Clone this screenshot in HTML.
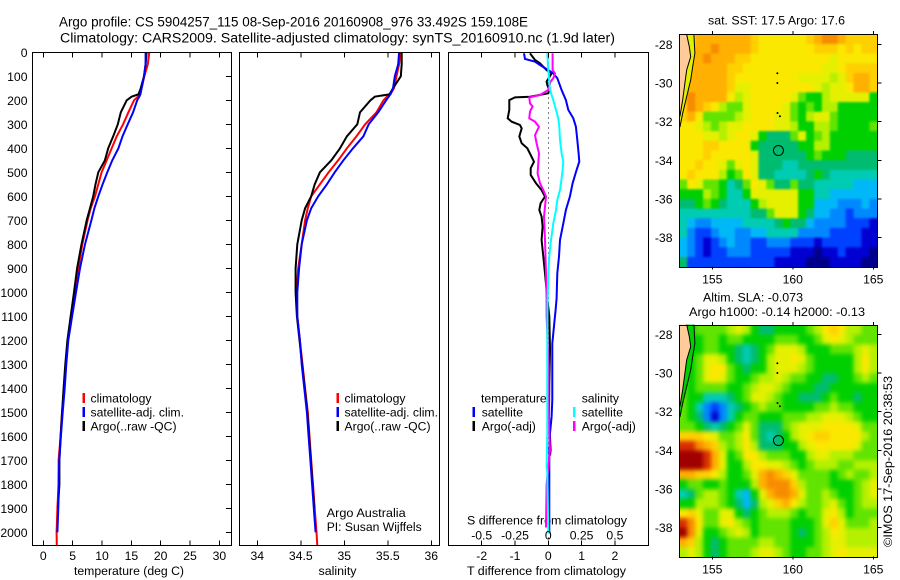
<!DOCTYPE html>
<html>
<head>
<meta charset="utf-8">
<style>
html,body{margin:0;padding:0;background:#fff;}
svg{display:block;}
text{font-family:"Liberation Sans","DejaVu Sans",sans-serif;font-size:12.2px;fill:#000;}
</style>
</head>
<body>
<svg id="fig" xmlns="http://www.w3.org/2000/svg" width="900" height="580" viewBox="0 0 900 580">
<text x="59" y="26.5" style="font-size:13.5px" textLength="469" lengthAdjust="spacingAndGlyphs">Argo profile: CS 5904257_115 08-Sep-2016 20160908_976 33.492S 159.108E</text>
<text x="60" y="42.5" style="font-size:13.5px" textLength="555" lengthAdjust="spacingAndGlyphs">Climatology: CARS2009. Satellite-adjusted climatology: synTS_20160910.nc (1.9d later)</text>
<text x="708" y="24.5" textLength="137" lengthAdjust="spacingAndGlyphs">sat. SST: 17.5 Argo: 17.6</text>
<text x="703" y="301.5" textLength="100" lengthAdjust="spacingAndGlyphs">Altim. SLA: -0.073</text>
<text x="689" y="316" textLength="176" lengthAdjust="spacingAndGlyphs">Argo h1000: -0.14 h2000: -0.13</text>
<text transform="translate(892,547) rotate(-90)" textLength="171" lengthAdjust="spacingAndGlyphs">©IMOS 17-Sep-2016 20:38:53</text>
<text x="74" y="575" textLength="110" lengthAdjust="spacingAndGlyphs">temperature (deg C)</text>
<text x="318.5" y="575" textLength="38" lengthAdjust="spacingAndGlyphs">salinity</text>
<text x="467" y="575" textLength="159" lengthAdjust="spacingAndGlyphs">T difference from climatology</text>
<text x="467" y="524.5" textLength="160" lengthAdjust="spacingAndGlyphs">S difference from climatology</text>
<text x="326.7" y="517" textLength="79" lengthAdjust="spacingAndGlyphs">Argo Australia</text>
<text x="326.7" y="531" textLength="95" lengthAdjust="spacingAndGlyphs">PI: Susan Wijffels</text>
<defs>
<filter id="blurSst" color-interpolation-filters="sRGB" x="-10%" y="-10%" width="120%" height="120%"><feGaussianBlur stdDeviation="1"/></filter>
<filter id="blurSla" color-interpolation-filters="sRGB" x="-10%" y="-10%" width="120%" height="120%"><feGaussianBlur stdDeviation="2.2"/></filter>
<clipPath id="clipSst"><rect x="680" y="34.5" width="197.5" height="232.5"/></clipPath>
<clipPath id="clipSla"><rect x="680" y="325" width="197.5" height="232"/></clipPath>
</defs>
</svg>
<script>
// ---------- profile data ----------
const profileDepths = [0,50,100,150,175,185,200,250,300,350,400,450,500,550,600,650,700,800,900,1000,1100,1200,1300,1400,1500,1600,1700,1800,1900,2000,2056];
const tempClim = [18.06,17.8,17.2,16.75,16.4,16.1,15.45,14.5,13.6,12.5,11.65,10.8,9.94,9.37,8.8,8.07,7.55,6.65,5.96,5.4,4.66,4.15,3.8,3.52,3.18,2.95,2.6,2.6,2.4,2.27,2.3];
const tempSat = [17.43,17.43,17.15,16.75,16.55,16.35,16.0,15.3,14.37,13.5,12.8,11.75,10.9,10.1,9.37,8.7,8.2,7.1,6.25,5.57,4.9,4.26,3.92,3.64,3.3,3.0,2.73,2.6,2.56,2.4,null];
const tempArgo = [17.6,17.43,17.15,16.6,16.2,15.05,14.2,13.2,12.7,11.9,11.05,10.5,9.37,8.9,8.5,7.95,7.4,6.5,5.75,5.23,4.66,4.1,3.75,3.45,3.2,2.95,2.75,2.75,2.5,null,null];
const salClim = [35.65,35.63,35.6,35.57,35.53,35.49,35.45,35.37,35.24,35.14,35.03,34.93,34.82,34.72,34.62,34.58,34.55,34.51,34.47,34.45,34.46,34.49,34.52,34.55,34.58,34.6,34.62,34.64,34.66,34.68,34.69];
const salSat = [35.63,35.62,35.58,35.56,35.53,35.51,35.48,35.39,35.28,35.22,35.1,34.99,34.89,34.8,34.7,34.62,34.57,34.51,34.48,34.46,34.46,34.49,34.51,34.54,34.57,34.59,34.61,34.63,34.65,34.67,null];
const salArgo = [35.66,35.66,35.65,35.56,35.52,35.35,35.3,35.18,35.15,35.03,34.95,34.85,34.72,34.66,34.62,34.55,34.51,34.46,34.44,34.44,34.455,34.485,34.515,34.545,34.575,34.595,34.615,34.635,34.655,null,null];

const tDiffSatDepths = [4,28,39,53,74,88,108,157,199,240,275,310,365,421,456,490,546,601,657,713,782,851,921,1025,1074,1115,1171,1213,1310,1449,1518,1588,1657,2005];
const tDiffSat = [-0.73,-0.70,-0.40,-0.25,0,0.15,0.27,0.40,0.53,0.60,0.75,0.83,0.87,0.91,0.93,0.85,0.73,0.65,0.53,0.45,0.35,0.32,0.27,0.25,0.22,0.19,0.15,0.12,0.12,0.12,0.10,0.05,0.03,0.03];
const tDiffArgoDepths = [4,32,46,60,74,88,122,136,157,171,185,188,199,240,275,289,303,317,351,379,400,428,456,483,511,546,574,601,629,657,685,726,782,851,921,1025,1100,1240,1380,1518,1657,1680];
const tDiffArgo = [-0.55,-0.40,-0.25,-0.15,-0.05,0.10,-0.05,-0.03,0.03,0,-0.55,-1.0,-1.17,-1.17,-1.22,-1.10,-0.85,-0.80,-0.87,-0.80,-0.63,-0.53,-0.43,-0.53,-0.53,-0.37,-0.20,-0.10,-0.23,-0.27,-0.20,-0.17,-0.20,-0.15,-0.10,-0.03,0.03,0.05,0.03,0.02,0.07,0.05];
const sDiffArgoDepths = [4,74,88,108,122,157,178,188,213,226,247,275,289,310,345,379,421,504,546,574,601,685,782,921,1025,1100,1171,1310,1449,1588,1657,1800,1980];
const sDiffArgo = [0.0325,0.0325,0.05,0.0375,0.0175,0,-0.0625,-0.1425,-0.1375,-0.1175,-0.1375,-0.1425,-0.1,-0.07,-0.1,-0.0875,-0.07,-0.08,-0.0625,-0.0375,-0.0175,-0.0325,-0.025,-0.0175,-0.0125,-0.0125,-0.0075,0.0025,0.0025,0.0075,0.0125,-0.0125,-0.0175];
const sDiffSatDepths = [4,74,157,199,240,275,310,365,421,456,504,574,615,657,713,782,851,921,1025,1171,1449,1588,1727,1750,2005];
const sDiffSat = [-0.0075,0,0.0125,0.0375,0.0575,0.075,0.0825,0.0875,0.1,0.1125,0.105,0.0875,0.0675,0.0575,0.0375,0.02,0.0075,0,-0.005,-0.0075,-0.0075,-0.0075,-0.0125,-0.0075,0];

// ---------- tick labels ----------
const depthTicks = [0,100,200,300,400,500,600,700,800,900,1000,1100,1200,1300,1400,1500,1600,1700,1800,1900,2000];
const tempTicks = [0,5,10,15,20,25,30];
const salTicks = [34,34.5,35,35.5,36];
const tDiffTicks = [-2,-1,0,1,2];
const sDiffTicks = [-0.5,-0.25,0,0.25,0.5];
const sDiffTickLabels = ['-0.5','-0.25','0','0.25','0.5'];
const lonTicks = [155,160,165];
const latTicks = [-28,-30,-32,-34,-36,-38];

// ---------- map data (colour level per cell, rows north to south) ----------
const sstLevels = [
[13,11,13,13,13,13,13,13,13,12,11,11,11,11,11,11,12,13,14,14,13,12,12,12,12],
[13,12,13,13,14,13,13,13,13,12,11,11,11,11,11,11,11,12,12,12,11,12,11,12,12],
[13,13,13,14,13,13,13,12,12,11,11,11,11,11,11,11,11,11,11,10,11,11,11,11,11],
[13,13,13,13,13,13,12,12,11,11,11,11,11,11,11,11,11,11,10,10,11,12,12,12,12],
[13,13,13,13,13,13,12,11,11,11,11,11,11,11,11,10,10,10,10,9,10,12,13,13,12],
[13,13,13,13,13,13,12,10,10,11,11,11,11,11,11,11,11,10,9,10,10,11,13,13,12],
[13,14,13,13,13,13,11,9,10,11,11,11,11,11,10,8,7,7,9,10,10,10,10,10,7],
[12,14,13,12,11,9,8,8,10,11,11,11,11,10,8,7,8,7,9,9,7,7,7,7,7],
[12,13,11,8,8,8,8,9,10,11,11,11,10,10,8,7,9,10,10,8,7,7,7,7,7],
[11,11,10,9,8,9,10,10,11,11,11,11,10,10,9,7,7,9,9,8,7,7,7,7,8],
[11,11,11,10,10,9,10,11,11,10,7,6,6,6,8,10,7,8,9,7,7,7,7,7,7],
[11,11,11,12,12,11,11,11,11,7,6,6,6,6,6,7,7,9,9,7,7,7,7,7,7],
[11,11,11,12,11,11,11,11,11,10,6,6,6,6,6,6,7,8,7,7,7,6,6,6,6],
[11,11,12,11,11,10,8,10,11,10,6,6,6,5,5,6,6,6,6,6,6,6,6,6,6],
[11,12,11,11,11,9,7,8,11,10,6,6,5,5,5,5,6,7,6,5,5,5,5,5,5],
[8,11,10,8,8,7,5,6,8,11,10,8,6,6,8,6,6,5,5,5,5,5,4,4,4],
[7,7,7,9,8,7,5,5,7,10,10,10,10,10,10,7,7,5,5,4,4,4,4,4,4],
[6,6,7,8,7,6,5,5,5,7,9,10,10,10,10,7,7,4,4,4,3,3,3,4,3],
[5,5,5,5,5,5,5,5,5,6,6,8,10,10,10,7,6,4,4,3,3,2,3,3,3],
[5,4,3,3,4,4,4,4,5,5,5,5,6,7,6,6,4,3,3,3,3,2,2,2,1],
[5,3,2,2,3,4,4,3,3,4,4,5,5,5,5,3,3,3,3,2,2,2,2,1,1],
[4,3,2,1,2,3,4,3,3,2,2,3,3,3,2,2,2,1,2,2,2,2,2,1,1],
[4,3,2,1,2,2,3,3,3,2,2,2,2,2,1,1,1,0,1,1,2,1,1,1,0],
[6,2,2,2,2,2,2,2,2,2,2,2,1,1,1,1,0,0,0,1,1,1,1,0,0]
];
const slaLevels = [
[8,7,8,8,8,8,9,10,9,7,6,6,7,7,7,7,8,9,11,12,11,9,9,8,8],
[8,7,7,8,8,7,8,8,7,7,7,7,8,8,8,7,7,8,10,11,10,9,8,8,8],
[8,7,7,8,8,7,7,6,5,6,7,8,10,10,10,9,7,7,7,8,8,8,9,10,9],
[8,7,8,10,10,9,7,6,5,6,7,9,10,10,11,10,8,7,7,7,7,7,9,11,9],
[9,7,8,10,11,11,8,7,6,7,7,9,10,10,10,9,8,7,7,7,7,7,9,11,9],
[8,7,8,10,11,10,8,7,7,8,9,9,10,9,8,8,7,7,6,6,7,7,8,9,8],
[8,7,8,8,8,8,7,7,8,9,10,10,9,8,7,7,7,6,6,7,7,7,7,7,7],
[8,7,7,5,5,5,6,7,8,10,10,9,8,7,7,6,6,6,7,8,7,7,6,7,7],
[8,7,5,3,2,3,5,6,7,8,9,8,8,7,7,7,7,8,8,9,8,8,7,7,7],
[8,7,6,3,1,3,5,7,8,8,7,7,7,8,8,8,9,9,10,10,10,9,8,7,7],
[8,8,7,6,5,6,7,8,10,8,6,6,6,8,9,10,10,10,11,11,11,11,10,8,8],
[12,12,12,11,10,8,8,9,11,8,6,5,6,7,9,10,11,12,12,11,11,11,11,9,8],
[15,15,14,13,12,9,8,9,11,9,6,6,6,7,7,9,10,11,11,11,11,11,10,8,8],
[16,16,16,15,13,10,7,8,11,11,9,8,8,8,7,7,9,10,10,9,9,9,8,8,8],
[16,16,16,15,13,10,7,7,9,11,11,10,10,9,8,7,8,9,9,9,8,8,9,9,9],
[13,13,12,12,11,9,7,7,8,10,13,14,13,12,10,8,8,8,8,7,8,9,8,8,9],
[7,8,8,7,7,8,7,7,7,9,13,14,14,14,12,9,8,8,8,7,7,7,8,9,10],
[5,6,8,9,9,8,7,5,4,7,10,13,14,14,13,10,8,8,9,8,7,7,8,9,10],
[7,7,9,9,9,8,7,6,4,6,9,10,12,13,11,9,8,8,9,10,8,7,8,9,9],
[11,12,10,8,8,10,10,7,6,7,8,9,9,9,8,7,8,8,10,11,9,7,8,8,8],
[15,14,11,8,8,10,11,9,8,7,8,8,8,8,7,7,7,8,10,12,10,8,8,8,9],
[16,14,10,7,7,8,9,10,9,7,8,8,8,8,7,6,7,8,9,11,10,9,9,9,9],
[13,12,9,7,6,7,8,8,8,8,9,9,8,8,7,7,7,8,9,10,10,9,9,9,9],
[9,10,9,7,6,7,8,8,8,9,10,10,9,8,7,7,8,8,9,10,11,10,10,10,10]
];
const levelColors = ['#00008c','#0000d2','#0040ff','#0088ff','#00b8f8','#00ccb4','#00bc70','#00d000','#60e400','#b4f000','#e4f000','#fbe800','#ffd000','#ffb000','#f88c00','#d83000','#a00000'];

// coastline and contour (lon/lat)
const coastLon = [153.41,153.57,153.66,153.41,153.3,153.16,152.99];
const coastLat = [-27.5,-28.12,-28.64,-29.32,-30.01,-30.87,-31.73];
const shelfLon = [153.86,153.92,153.78,153.66,153.41,153.16,152.99];
const shelfLat = [-27.5,-28.46,-29.15,-29.84,-30.7,-31.56,-32.28];
const islandLon = [159.04,159.04,159.05,159.2];
const islandLat = [-29.5,-30.0,-31.55,-31.72];
const floatLon = 159.108;
const floatLat = -33.492;

// ---------- layout ----------
const svg = document.getElementById('fig');
const NS = 'http://www.w3.org/2000/svg';
const depthTop = 52.3, depthPerPx = 0.24;
const panelBottom = 545.7;
const yDepth = d => depthTop + depthPerPx * d;
const xTemp = t => 43.3 + 5.87 * t;
const xSal = s => 257.3 + 87 * (s - 34);
const xTDiff = t => 548.3 + 33.3 * t;
const xSDiff = s => 548.3 + 133.2 * s;
const mapW = {lon0:152.95, lon1:165.25};
const xLon = lon => 712.3 + 16.1 * (lon - 155);
const yLatTop = lat => 44.3 + 19.34 * (-28 - lat);
const yLatBot = lat => 334.3 + 19.34 * (-28 - lat);

function add(tag, attrs, name, parent){
  const el = document.createElementNS(NS, tag);
  for (const k in attrs) el.setAttribute(k, attrs[k]);
  
  
  (parent || svg).appendChild(el);
  return el;
}
function label(str, x, y, anchor, name){
  const t = add('text', {x:x, y:y, 'text-anchor':anchor}, name);
  t.textContent = str;
  return t;
}
function tick(x1,y1,x2,y2,name){
  add('line',{x1:x1,y1:y1,x2:x2,y2:y2,stroke:'#000','stroke-width':1,'shape-rendering':'crispEdges'},name);
}
function frame(x0,y0,x1,y1,name){
  add('rect',{x:x0,y:y0,width:x1-x0,height:y1-y0,fill:'none',stroke:'#000','stroke-width':1,'shape-rendering':'crispEdges'},name);
}
function profile(depths, vals, xf, color, name){
  const pts = [];
  depths.forEach((d,i)=>{ if(vals[i]!==null) pts.push(xf(vals[i]).toFixed(1)+','+yDepth(d).toFixed(1)); });
  add('polyline',{points:pts.join(' '),fill:'none',stroke:color,'stroke-width':2,'stroke-linejoin':'miter'},name);
}
function legendKey(x,y,color,name){
  add('rect',{x:x,y:y-5,width:2.4,height:10,fill:color,'shape-rendering':'crispEdges'},name);
}

// ---------- panel 1: temperature ----------
profile(profileDepths,tempClim,xTemp,'#ff0000','temp-climatology-line');
profile(profileDepths,tempArgo,xTemp,'#000000','temp-argo-line');
profile(profileDepths,tempSat,xTemp,'#0000ff','temp-satellite-line');
frame(32.5,52.5,231.5,panelBottom,'temperature-panel-frame');
depthTicks.forEach(d=>{
  tick(226,yDepth(d),231.5,yDepth(d),'depth-tick');
  label(String(d),27.5,yDepth(d)+4.5,'end','depth-tick-label');
});
tempTicks.forEach(t=>{
  tick(xTemp(t),52.5,xTemp(t),57.5,'temp-tick-top');
  tick(xTemp(t),panelBottom-5,xTemp(t),panelBottom,'temp-tick-bottom');
  label(String(t),xTemp(t),560,'middle','temp-tick-label');
});
legendKey(82.5,398,'#ff0000','legend-key-climatology');
legendKey(82.5,412,'#0000ff','legend-key-satellite');
legendKey(82.5,426,'#000000','legend-key-argo');
label('climatology',90.5,402.5,'start','legend-climatology');
label('satellite-adj. clim.',90.5,416.5,'start','legend-satellite');
label('Argo(..raw -QC)',90.5,430.5,'start','legend-argo');

// ---------- panel 2: salinity ----------
profile(profileDepths,salClim,xSal,'#ff0000','sal-climatology-line');
profile(profileDepths,salArgo,xSal,'#000000','sal-argo-line');
profile(profileDepths,salSat,xSal,'#0000ff','sal-satellite-line');
frame(239.5,52.5,439.5,panelBottom,'salinity-panel-frame');
salTicks.forEach(s=>{
  tick(xSal(s),52.5,xSal(s),57.5,'sal-tick-top');
  tick(xSal(s),panelBottom-5,xSal(s),panelBottom,'sal-tick-bottom');
  label(String(s),xSal(s),560,'middle','sal-tick-label');
});
legendKey(336.7,398,'#ff0000','legend-key-climatology-sal');
legendKey(336.7,412,'#0000ff','legend-key-satellite-sal');
legendKey(336.7,426,'#000000','legend-key-argo-sal');
label('climatology',344.5,402.5,'start','legend-climatology-sal');
label('satellite-adj. clim.',344.5,416.5,'start','legend-satellite-sal');
label('Argo(..raw -QC)',344.5,430.5,'start','legend-argo-sal');

// ---------- panel 3: differences ----------
add('line',{x1:xTDiff(0),y1:52.5,x2:xTDiff(0),y2:panelBottom,stroke:'#000','stroke-width':1,'stroke-dasharray':'1 4','shape-rendering':'crispEdges'},'zero-difference-line');
profile(tDiffArgoDepths,tDiffArgo,xTDiff,'#000000','t-diff-argo-line');
profile(tDiffSatDepths,tDiffSat,xTDiff,'#0000ff','t-diff-satellite-line');
profile(sDiffArgoDepths,sDiffArgo,xSDiff,'#ff00ff','s-diff-argo-line');
profile(sDiffSatDepths,sDiffSat,xSDiff,'#00ffff','s-diff-satellite-line');
frame(448.5,52.5,648.5,panelBottom,'difference-panel-frame');
tDiffTicks.forEach(t=>{
  tick(xTDiff(t),52.5,xTDiff(t),57.5,'t-diff-tick-top');
  tick(xTDiff(t),panelBottom-5,xTDiff(t),panelBottom,'t-diff-tick-bottom');
  label(String(t),xTDiff(t),560,'middle','t-diff-tick-label');
});
sDiffTicks.forEach((s,i)=>{
  label(sDiffTickLabels[i],xSDiff(s),539.5,'middle','s-diff-tick-label');
});
legendKey(472.5,412,'#0000ff','legend-key-t-satellite');
legendKey(472.5,426,'#000000','legend-key-t-argo');
legendKey(573,412,'#00ffff','legend-key-s-satellite');
legendKey(573,426,'#ff00ff','legend-key-s-argo');
label('temperature',481,402.5,'start','legend-temperature-heading');
label('satellite',481.7,416.5,'start','legend-t-satellite');
label('Argo(-adj)',481.7,430.5,'start','legend-t-argo');
label('salinity',581.7,402.5,'start','legend-salinity-heading');
label('satellite',581.7,416.5,'start','legend-s-satellite');
label('Argo(-adj)',581.7,430.5,'start','legend-s-argo');

// ---------- maps ----------
function drawMap(levels, yLat, latTopEdge, latBotEdge, bandColor, prefix, clipId, filterId){
  const nRows = levels.length, nCols = levels[0].length;
  const dLon = (mapW.lon1 - mapW.lon0) / nCols;
  const dLat = (latTopEdge - latBotEdge) / nRows;
  const clip = add('g',{'clip-path':'url(#'+clipId+')'},prefix+'-heatmap-clip');
  const g = add('g',{filter:'url(#'+filterId+')'},prefix+'-heatmap',clip);
  levels.forEach((row,r)=>{
    row.forEach((lvl,c)=>{
      let x0 = xLon(mapW.lon0 + c*dLon), x1 = xLon(mapW.lon0 + (c+1)*dLon);
      let y0 = yLat(latTopEdge - r*dLat), y1 = yLat(latTopEdge - (r+1)*dLat);
      if (c === 0) x0 -= 12;
      if (c === nCols-1) x1 += 12;
      if (r === 0) y0 -= 12;
      if (r === nRows-1) y1 += 12;
      add('rect',{x:x0.toFixed(2),y:y0.toFixed(2),width:(x1-x0+0.5).toFixed(2),height:(y1-y0+0.5).toFixed(2),fill:levelColors[lvl]},prefix+'-cell',g);
    });
  });
  const edge = coastLon.map((lon,i)=>xLon(lon).toFixed(1)+','+yLat(coastLat[i]).toFixed(1));
  const shelf = shelfLon.map((lon,i)=>xLon(lon).toFixed(1)+','+yLat(shelfLat[i]).toFixed(1));
  add('polygon',{points:edge.join(' ')+' '+shelf.slice().reverse().join(' '),fill:bandColor},prefix+'-shelf-band');
  const land = edge.concat([xLon(mapW.lon0).toFixed(1)+','+yLat(coastLat[6]).toFixed(1), xLon(mapW.lon0).toFixed(1)+','+yLat(coastLat[0]).toFixed(1)]);
  add('polygon',{points:land.join(' '),fill:'#ffcc99'},prefix+'-land');
  add('polyline',{points:edge.join(' '),fill:'none',stroke:'#000','stroke-width':1},prefix+'-coastline');
  add('polyline',{points:shelf.join(' '),fill:'none',stroke:'#000','stroke-width':1},prefix+'-shelf-contour');
  islandLon.forEach((lon,i)=>{
    add('circle',{cx:xLon(lon),cy:yLat(islandLat[i]),r:1,fill:'#000'},prefix+'-island');
  });
  add('circle',{cx:xLon(floatLon),cy:yLat(floatLat),r:5,fill:'none',stroke:'#000','stroke-width':1},prefix+'-float-marker');
  const top = yLat(latTopEdge), bot = yLat(latBotEdge);
  frame(679.5,Math.round(top)+0.5,877.5,Math.round(bot)+0.5,prefix+'-frame');
  lonTicks.forEach(lon=>{
    tick(xLon(lon),top-3,xLon(lon),top,prefix+'-lon-tick-top');
    tick(xLon(lon),bot,xLon(lon),bot+3,prefix+'-lon-tick-bottom');
    label(String(lon),xLon(lon),bot+17,'middle',prefix+'-lon-label');
  });
  latTicks.forEach(lat=>{
    tick(877.5,yLat(lat),881.5,yLat(lat),prefix+'-lat-tick');
    label(String(lat),672.5,yLat(lat)+4.5,'end',prefix+'-lat-label');
  });
}
drawMap(sstLevels,yLatTop,-27.48,-39.5,'#e0f000','sst-map','clipSst','blurSst');
drawMap(slaLevels,yLatBot,-27.52,-39.5,'#00d000','sla-map','clipSla','blurSla');
</script>
</body>
</html>
